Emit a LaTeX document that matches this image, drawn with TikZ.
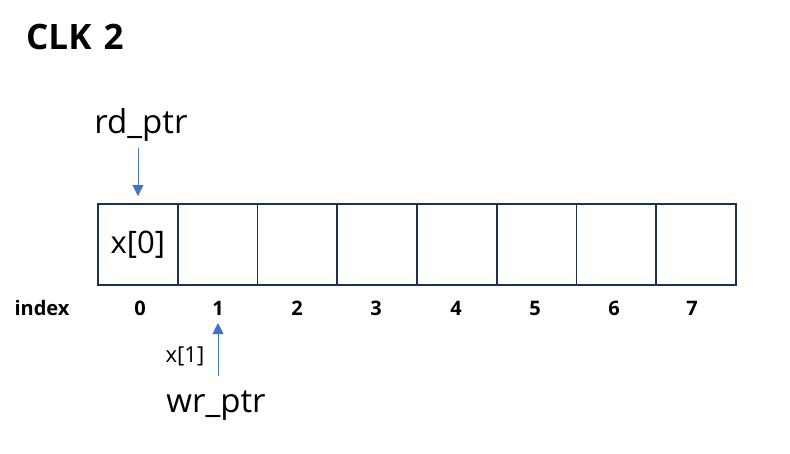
\documentclass[tikz,border=0pt]{standalone}
\usepackage{fontspec}
\setmainfont{Open Sans}
\usetikzlibrary{arrows.meta}
\definecolor{cellline}{HTML}{1F3150}
\definecolor{arrowblue}{HTML}{4472C4}
\tikzset{
  cell/.style={draw=cellline, line width=1.8pt, minimum width=79.75pt, minimum height=81pt, inner sep=0pt, anchor=north west},
  idx/.style={font=\fontsize{20}{24}\selectfont\bfseries, inner sep=0pt},
  ptr/.style={font=\fontsize{33}{38}\selectfont, inner sep=0pt},
  parrow/.style={draw=arrowblue, line width=0.8pt, -{Triangle[length=11pt,width=11pt]}}
}
\begin{document}
\begin{tikzpicture}[x=1pt,y=-1pt]
\useasboundingbox (0,0) rectangle (790,453);
\node[font=\fontsize{35}{42}\selectfont\bfseries, anchor=west, inner sep=0pt] (title) at (26,37) {CLK\hspace{3pt} 2};
\foreach \i in {0,...,7} {
  \node[cell] (c\i) at ({97+\i*79.75},203) {};
}
\node[font=\fontsize{31}{36}\selectfont, inner sep=0pt] (x0) at (c0.center) {x[0]};
\node[idx] (index) at (42,308) {index};
\foreach \i/\xx in {0/140,1/218,2/297,3/376,4/456,5/535,6/614,7/692} {
  \node[idx] (n\i) at (\xx,308) {\i};
}
\node[ptr] (rd) at (141,125) {rd\_ptr};
\coordinate (rdtop) at (138,148);
\coordinate (rdtip) at (138,196);
\draw[parrow] (rdtop) -- (rdtip);
\node[ptr] (wr) at (216,406) {wr\_ptr};
\coordinate (wrbot) at (218,376);
\coordinate (wrtip) at (218,323);
\draw[parrow] (wrbot) -- (wrtip);
\node[font=\fontsize{22}{26}\selectfont, inner sep=0pt] (x1) at (185,356) {x[1]};
\end{tikzpicture}
\end{document}
